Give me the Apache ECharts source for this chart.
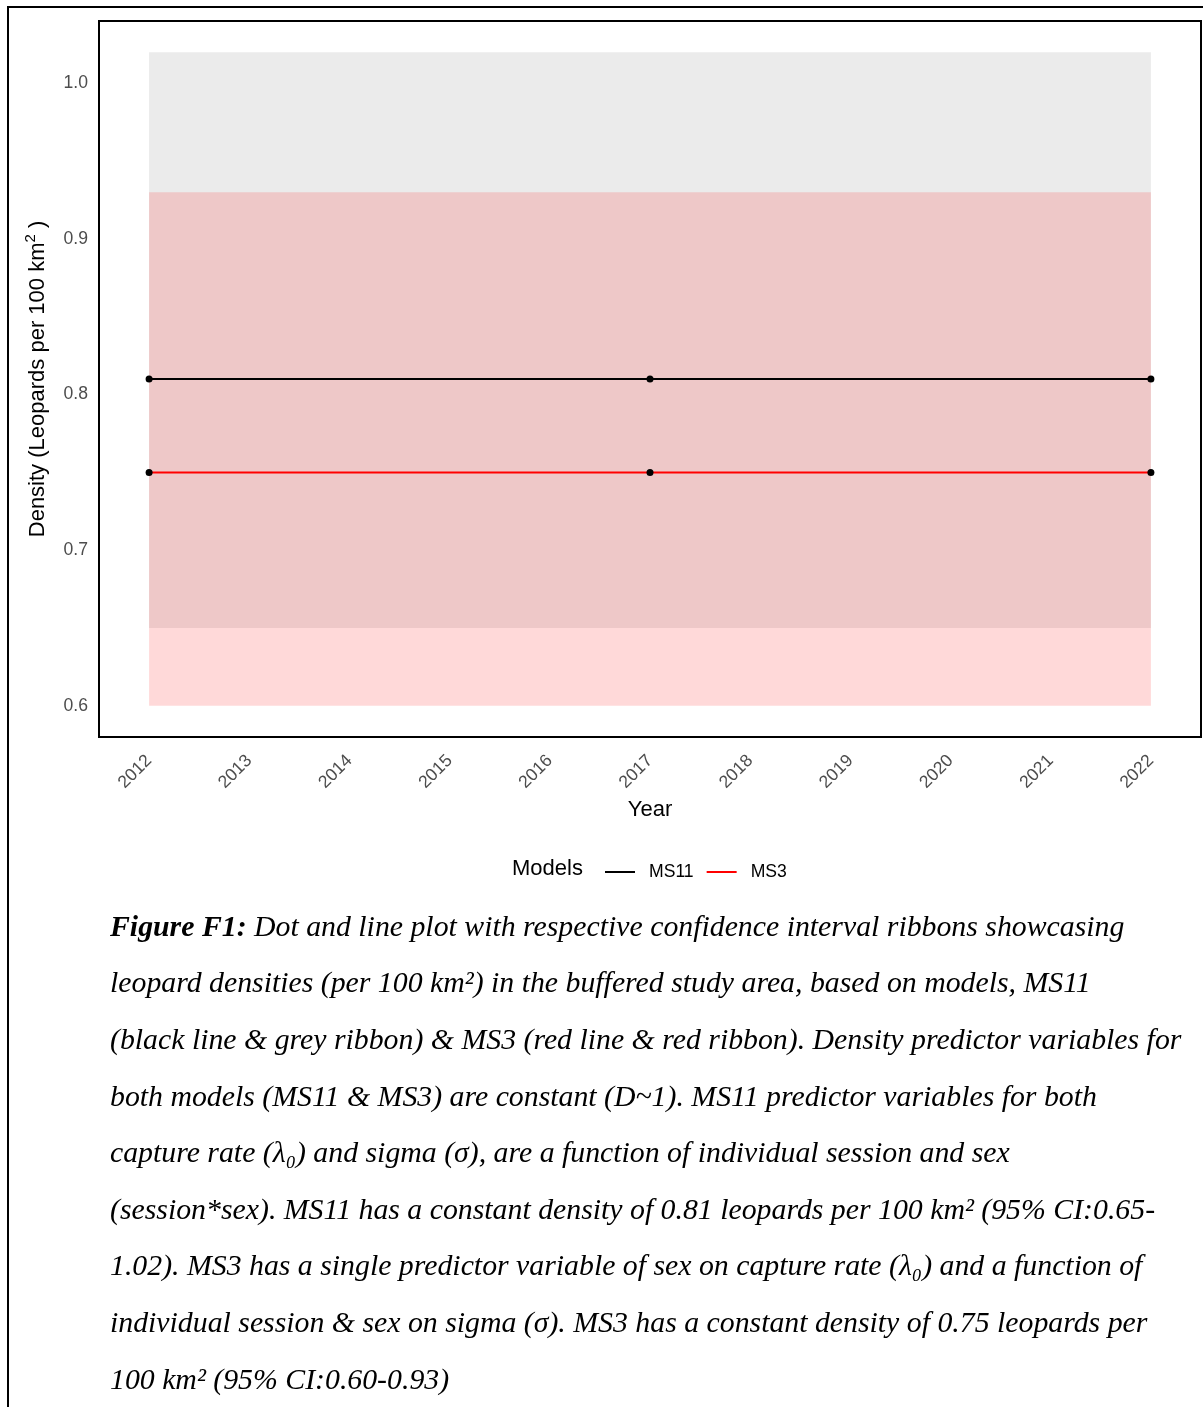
<!DOCTYPE html>
<html>
<head>
<meta charset="utf-8">
<script src="https://cdn.jsdelivr.net/npm/echarts@6/dist/echarts.min.js"></script>
<style>
html,body{margin:0;padding:0;background:#fff;}
#chart{width:1203px;height:1407px;}
</style>
</head>
<body>
<div id="chart"></div>
<script>
// ---- data ----
const years = ['2012','2013','2014','2015','2016','2017','2018','2019','2020','2021','2022'];
const pointYears = ['2012','2017','2022'];
const ms11 = [0.81, 0.81, 0.81];
const ms3 = [0.75, 0.75, 0.75];
const ms11Lower = [0.65, 0.65, 0.65];
const ms11Upper = [1.02, 1.02, 1.02];
const ms3Lower = [0.60, 0.60, 0.60];
const ms3Upper = [0.93, 0.93, 0.93];
const yTicks = [0.6, 0.7, 0.8, 0.9, 1.0];
const captionLines = [
  '{b|Figure F1:} Dot and line plot with respective confidence interval ribbons showcasing',
  'leopard densities (per 100 km²) in the buffered study area, based on models, MS11',
  '(black line & grey ribbon) & MS3 (red line & red ribbon). Density predictor variables for',
  'both models (MS11 & MS3) are constant (D~1). MS11 predictor variables for both',
  'capture rate (λ₀) and sigma (σ), are a function of individual session and sex',
  '(session*sex). MS11 has a constant density of 0.81 leopards per 100 km² (95% CI:0.65-',
  '1.02). MS3 has a single predictor variable of sex on capture rate (λ₀) and a function of',
  'individual session & sex on sigma (σ). MS3 has a constant density of 0.75 leopards per',
  '100 km² (95% CI:0.60-0.93)'
];

const sans = '"Liberation Sans", Arial, Helvetica, sans-serif';
const serif = '"Liberation Serif", "DejaVu Serif", serif';

// fit caption font to the widest line
const ctx = document.createElement('canvas').getContext('2d');
ctx.font = 'italic 100px ' + serif;
const wRef = ctx.measureText(captionLines[2]).width;
const capSize = Math.round(100 * 1073 / wRef * 10) / 10;

function band(lo, up) {
  return [[
    { xAxis: pointYears[0], yAxis: lo[0] },
    { xAxis: pointYears[pointYears.length - 1], yAxis: up[0] }
  ]];
}

const graphics = [
  { type: 'rect', shape: { x: 8, y: 7, width: 1215, height: 1420 },
    style: { fill: 'none', stroke: '#000', lineWidth: 2 }, silent: true },
  { type: 'text', x: 512, y: 869,
    style: { text: 'Models', font: '22px ' + sans, fill: '#000', verticalAlign: 'middle' } }
];
captionLines.forEach((t, i) => {
  graphics.push({
    type: 'text', x: 110, y: 928 + i * 56.6,
    style: {
      text: t, fill: '#000', verticalAlign: 'middle',
      fontFamily: serif, fontStyle: 'italic', fontSize: capSize,
      rich: { b: { fontFamily: serif, fontStyle: 'italic', fontWeight: 'bold', fontSize: capSize, fill: '#000' } }
    }
  });
});

const chart = echarts.init(document.getElementById('chart'), null, { renderer: 'canvas' });
chart.setOption({
  animation: false,
  backgroundColor: '#fff',
  grid: { left: 99, right: 2, top: 21, bottom: 670, show: true, borderColor: '#000', borderWidth: 2, backgroundColor: 'transparent' },
  xAxis: {
    type: 'category', data: years, boundaryGap: true,
    axisLine: { show: false }, axisTick: { show: false }, splitLine: { show: false },
    axisLabel: { rotate: 45, color: '#4d4d4d', fontSize: 17.6, fontFamily: sans, margin: 21, interval: 0, padding: [0, 0, 0, 0] },
    name: 'Year', nameLocation: 'middle', nameGap: 55,
    nameTextStyle: { color: '#000', fontSize: 22, fontFamily: sans }
  },
  yAxis: {
    type: 'value', min: 0.58, max: 1.04,
    axisLine: { show: false }, axisTick: { show: false }, splitLine: { show: false },
    axisLabel: { customValues: yTicks, formatter: v => v.toFixed(1), color: '#4d4d4d', fontSize: 17.6, fontFamily: sans, margin: 11 },
    name: 'Density (Leopards per 100 km{sup|2} )', nameLocation: 'middle', nameGap: 47,
    nameTextStyle: { color: '#000', fontSize: 22, fontFamily: sans,
      rich: { sup: { fontSize: 15, fontFamily: sans, color: '#000', padding: [0, 0, 14, 0] } } }
  },
  legend: {
    left: 600, top: 858, itemWidth: 30, itemHeight: 2, itemGap: 13,
    textStyle: { fontSize: 17.6, fontFamily: sans, color: '#000', padding: [0, 0, 0, 9] },
    data: [
      { name: 'MS11', icon: 'rect', itemStyle: { color: '#000' } },
      { name: 'MS3', icon: 'rect', itemStyle: { color: '#ff0000' } }
    ],
    selectedMode: false
  },
  graphic: graphics,
  series: [
    { name: 'MS11 CI', type: 'line', data: [], z: 1, silent: true,
      markArea: { silent: true, itemStyle: { color: 'rgba(190,190,190,0.3)' }, data: band(ms11Lower, ms11Upper) } },
    { name: 'MS3 CI', type: 'line', data: [], z: 1, silent: true,
      markArea: { silent: true, itemStyle: { color: 'rgba(255,0,0,0.15)' }, data: band(ms3Lower, ms3Upper) } },
    { name: 'MS11', type: 'line', z: 3, data: pointYears.map((y, i) => [y, ms11[i]]),
      symbol: 'circle', symbolSize: 7, showSymbol: true,
      lineStyle: { color: '#000', width: 2 }, itemStyle: { color: '#000' } },
    { name: 'MS3', type: 'line', z: 3, data: pointYears.map((y, i) => [y, ms3[i]]),
      symbol: 'circle', symbolSize: 7, showSymbol: true,
      lineStyle: { color: '#ff0000', width: 2 }, itemStyle: { color: '#000' } }
  ]
});
</script>
</body>
</html>
